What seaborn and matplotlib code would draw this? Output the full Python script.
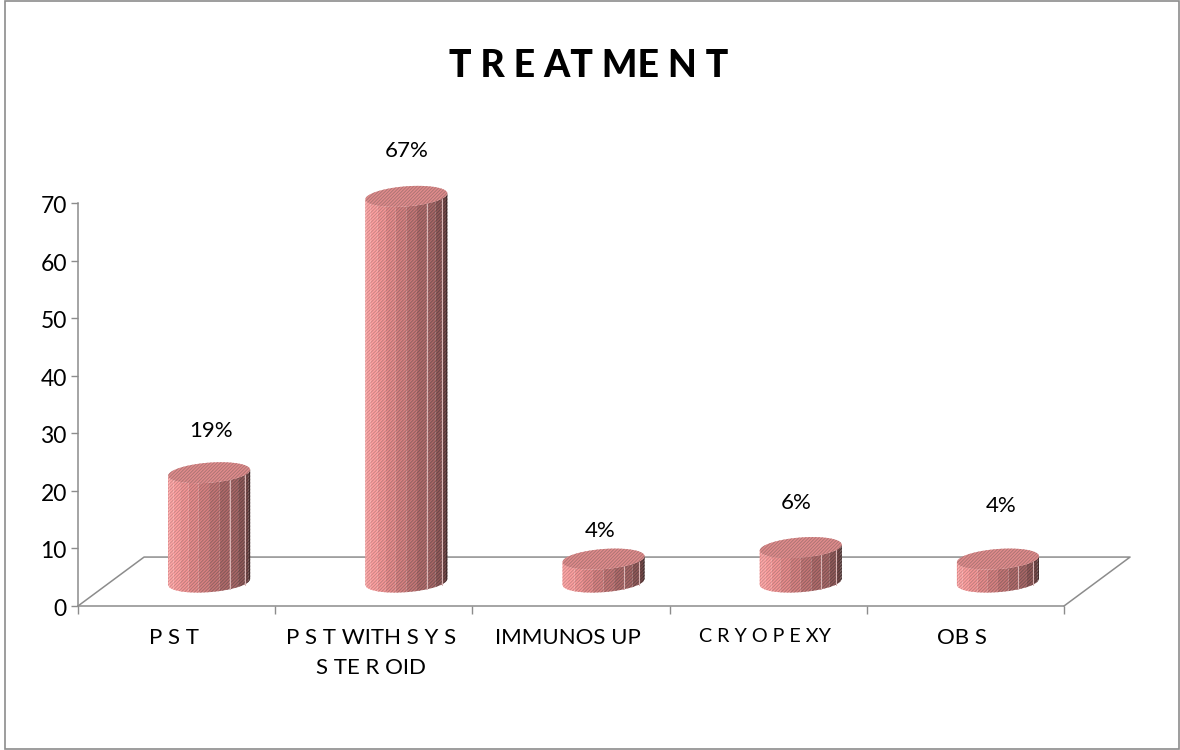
import numpy as np
import pandas as pd
import matplotlib
matplotlib.use("Agg")
import matplotlib.pyplot as plt
from matplotlib.patches import Polygon, Rectangle
from matplotlib.transforms import ScaledTranslation
import seaborn as sns

categories = ["P S T", "P S T WITH S Y S\nS TE R OID", "IMMUNOS UP", "C R Y O P E XY", "OB S"]
percent = [19, 67, 4, 6, 4]
y_ticks = [0, 10, 20, 30, 40, 50, 60, 70]

# Layout of the pseudo-3D chart, in axis units
FLOOR_LEVEL = 4.15
DEPTH_SHIFT = 0.165
BAR_WIDTH = 0.416
CAP_HALF_HEIGHT = 1.75
CAP_SLOPE = 2.5
FLOOR_DX = 0.335
FLOOR_DY = 8.5
LABEL_GAPS = [7.2, 7.8, 4.9, 7.7, 9.3]
LABEL_NUDGES = [0.007, 0.0, -0.015, -0.025, 0.015]
CATEGORY_SIZES = [16, 16, 16, 14.2, 16]
GRAIN = "//////////"

# Facet shades running from the lit side to the shadow side of a cylinder
FACE_RAMP = ["#ff9e9e", "#ffa6a6", "#ffa0a0", "#f79696", "#ea8c8c", "#da8282",
             "#c87777", "#b46b6b", "#ab6767", "#945a5a", "#774848", "#523333"]
GRAIN_RAMP = ["#c98686", "#cf8a8a", "#c98585", "#bd7d7d", "#b07474", "#a16b6b",
              "#906161", "#805757", "#785353", "#664747", "#503838", "#342424"]
HIGHLIGHT_FACETS = [7, 9]
CAP_FACE = "#e28c8c"
CAP_GRAIN = "#ab7474"
AXIS_GREY = "#8c8c8c"

plt.rcParams["hatch.linewidth"] = 0.7
sns.set_theme(style="white")
plt.rcParams["font.family"] = ["Lato", "DejaVu Sans"]

fig = plt.figure(figsize=(11.8, 7.5), dpi=100)
ax = fig.add_axes([78 / 1180, 1 - 606 / 750, 986 / 1180, 403 / 750])

frame = pd.DataFrame({"treatment": categories, "percent": percent})
sns.barplot(data=frame, x="treatment", y="percent", width=BAR_WIDTH,
            bottom=FLOOR_LEVEL, color=FACE_RAMP[0], ax=ax, zorder=3)
ax.set_xlim(-0.5, 4.5)
ax.set_ylim(0, 70)


def cap_point(theta, cx, half_w, level):
    x = cx + half_w * np.cos(theta)
    return x, level + CAP_HALF_HEIGHT * np.sin(theta) + CAP_SLOPE * (x - cx)


# Rebuild each bar as a faceted cylinder using its own geometry
for patch, gap, nudge in zip(list(ax.patches), LABEL_GAPS, LABEL_NUDGES):
    patch.set_visible(False)
    half_w = patch.get_width() / 2
    cx = patch.get_x() + half_w + DEPTH_SHIFT
    base = patch.get_y()
    top = base + patch.get_height()

    angles = np.linspace(np.pi, 2 * np.pi, len(FACE_RAMP) + 1)
    for i, (face, grain) in enumerate(zip(FACE_RAMP, GRAIN_RAMP)):
        x0, y0 = cap_point(angles[i], cx, half_w, base)
        x1, y1 = cap_point(angles[i + 1], cx, half_w, base)
        x2, y2 = cap_point(angles[i + 1], cx, half_w, top)
        x3, y3 = cap_point(angles[i], cx, half_w, top)
        ax.add_patch(Polygon([(x0, y0), (x1, y1), (x2, y2), (x3, y3)], closed=True,
                             facecolor=face, edgecolor=grain, hatch=GRAIN,
                             linewidth=0, zorder=3, clip_on=False))
        if i in HIGHLIGHT_FACETS:
            ax.plot([x1, x2], [y1, y2], color="#d9b4b4", lw=0.8, zorder=3.5, clip_on=False)

    ring = np.linspace(0, 2 * np.pi, 60)
    ax.add_patch(Polygon(np.column_stack(cap_point(ring, cx, half_w, top)), closed=True,
                         facecolor=CAP_FACE, edgecolor=CAP_GRAIN, hatch=GRAIN,
                         linewidth=0, zorder=4, clip_on=False))

    ax.text(cx + nudge, top + gap, f"{patch.get_height():.0f}%", ha="center", va="center",
            fontsize=16, color="black", clip_on=False)

# Floor of the 3D plot area
ax.plot([-0.5, -0.5 + FLOOR_DX, 4.5 + FLOOR_DX, 4.5], [0, FLOOR_DY, FLOOR_DY, 0],
        color=AXIS_GREY, lw=1.1, zorder=1, clip_on=False)

for name in ("top", "right"):
    ax.spines[name].set_visible(False)
for name in ("left", "bottom"):
    ax.spines[name].set_color(AXIS_GREY)
    ax.spines[name].set_linewidth(1.1)

ax.set_xlabel("")
ax.set_ylabel("")
ax.set_yticks(y_ticks)
ax.tick_params(axis="y", which="major", left=True, length=5, width=1, color=AXIS_GREY,
               labelsize=16.5, pad=3, labelcolor="black")
tick_drop = ScaledTranslation(0, -1.5 / 100, fig.dpi_scale_trans)
for label in ax.get_yticklabels():
    label.set_transform(label.get_transform() + tick_drop)

ax.set_xticks(np.arange(-0.5, 5, 1))
ax.set_xticklabels([])
ax.set_xticks(np.arange(5), labels=categories, minor=True)
ax.tick_params(axis="x", which="major", bottom=True, length=5.5, width=1, color=AXIS_GREY)
ax.tick_params(axis="x", which="minor", bottom=False, labelsize=16, pad=12,
               labelcolor="black")
label_shift = ScaledTranslation(-3 / 100, 0, fig.dpi_scale_trans)
for label, size in zip(ax.get_xticklabels(minor=True), CATEGORY_SIZES):
    label.set_linespacing(1.6)
    label.set_fontsize(size)
    label.set_transform(label.get_transform() + label_shift)

fig.text(589 / 1180, 1 - 66 / 750, "T R E AT ME N T", ha="center", va="center",
         fontsize=27, fontweight="black", color="black")

# Outer chart frame
fig.add_artist(Rectangle((5 / 1180, 1 - 749 / 750), 1174 / 1180, 748 / 750,
                         transform=fig.transFigure, fill=False,
                         edgecolor=AXIS_GREY, linewidth=1.2))

fig.savefig("out.png", dpi=100)
